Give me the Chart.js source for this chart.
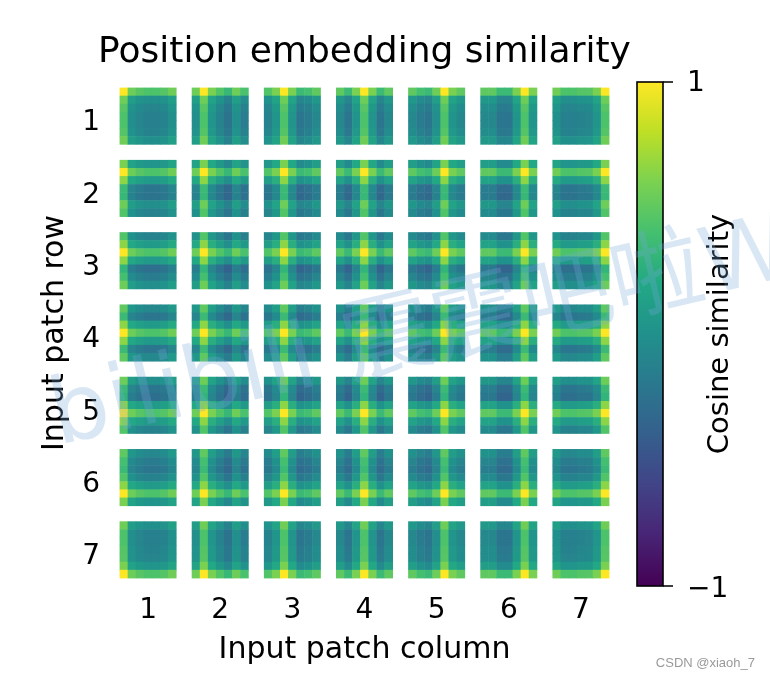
<!DOCTYPE html>
<html>
<head>
<meta charset="utf-8">
<script src="https://cdn.jsdelivr.net/npm/chart.js@4.4.1/dist/chart.umd.min.js"></script>
<style>
  html, body { margin: 0; background: #fff; }
</style>
</head>
<body>
<canvas id="simChart" width="770" height="678"></canvas>
<script>
// tick labels for both patch axes
const patchTicks = [1, 2, 3, 4, 5, 6, 7];
const cbarTicks = [-1, 1];

// row part of the similarity: rowSim[r][i] = contribution when comparing patch row r with row i
const rowSim = [
  [0.5, 0.05, -0.03, -0.07, -0.07, -0.04, 0.06],
  [0.1, 0.5, 0.15, -0.15, -0.17, 0.05, -0.05],
  [-0.05, 0.15, 0.5, 0.15, -0.2, -0.1, 0.05],
  [0.0, -0.15, 0.15, 0.5, 0.15, -0.15, 0.0],
  [0.05, -0.15, -0.2, 0.15, 0.5, 0.15, -0.05],
  [0.0, -0.1, -0.15, -0.05, 0.15, 0.5, 0.1],
  [0.06, -0.07, -0.07, -0.04, -0.03, 0.1, 0.5]
];

// column part: colSim[c][j]
const colSim = [
  [0.5, 0.05, -0.03, -0.07, -0.07, -0.04, 0.06],
  [0.05, 0.5, 0.1, -0.05, -0.17, 0.05, -0.08],
  [-0.05, 0.1, 0.5, 0.1, -0.15, -0.1, 0.0],
  [0.0, -0.15, 0.1, 0.5, 0.1, -0.15, 0.0],
  [0.0, -0.1, -0.15, 0.05, 0.5, 0.1, 0.0],
  [0.0, 0.0, -0.15, -0.15, 0.1, 0.5, 0.1],
  [0.06, -0.07, -0.07, -0.04, -0.03, 0.1, 0.5]
];

// viridis colour map
const viridis = ["#440154", "#482475", "#414487", "#355f8d", "#2a788e", "#21918c",
                 "#22a884", "#44bf70", "#7ad151", "#bddf26", "#fde725"];

function hexRgb(h) {
  return [parseInt(h.slice(1, 3), 16), parseInt(h.slice(3, 5), 16), parseInt(h.slice(5, 7), 16)];
}
function viridisColor(v) {
  let t = (Math.max(-1, Math.min(1, v)) + 1) / 2 * (viridis.length - 1);
  const k = Math.min(Math.floor(t), viridis.length - 2);
  const f = t - k;
  const a = hexRgb(viridis[k]), b = hexRgb(viridis[k + 1]);
  const c = a.map((x, n) => Math.round(x + (b[n] - x) * f));
  return "rgb(" + c.join(",") + ")";
}

const TILE = 0.783;        // tile size in axis units
const CELL = TILE / 7;

// build the cell table
const cells = [];
for (let r = 0; r < 7; r++) {
  for (let c = 0; c < 7; c++) {
    for (let i = 0; i < 7; i++) {
      for (let j = 0; j < 7; j++) {
        cells.push({
          x: patchTicks[c] + (j - 3) * CELL,
          y: patchTicks[r] + (i - 3) * CELL,
          v: rowSim[r][i] + colSim[c][j]
        });
      }
    }
  }
}

Chart.defaults.font.family = "'DejaVu Sans', sans-serif";
Chart.defaults.color = "#000";

function cellRadius(ctx) {
  const s = ctx.chart.scales.x;
  return (Math.abs(s.getPixelForValue(CELL) - s.getPixelForValue(0)) + 0.5) / Math.SQRT2;
}

// fixed axis boxes, no extra label padding pushed into the layout
function fixBox(size) {
  return (s) => {
    if (s.isHorizontal()) s.height = size; else s.width = size;
    s.paddingTop = s.paddingBottom = s.paddingLeft = s.paddingRight = 0;
  };
}

const colorbar = {
  id: "colorbar",
  afterDraw(chart) {
    const { ctx, chartArea } = chart;
    const s = chart.scales.cbar;
    const top = s.getPixelForValue(1) + 2, bot = s.getPixelForValue(-1);
    const x0 = s.left + 20, w = 26;
    const g = ctx.createLinearGradient(0, bot, 0, top);
    viridis.forEach((c, k) => g.addColorStop(k / (viridis.length - 1), c));
    ctx.save();
    ctx.fillStyle = g;
    ctx.fillRect(x0, top, w, bot - top);
    ctx.strokeStyle = "#000";
    ctx.lineWidth = 1.6;
    ctx.strokeRect(x0, top, w, bot - top);
    ctx.beginPath();
    cbarTicks.forEach((t) => {
      const y = t > 0 ? top : bot;
      ctx.moveTo(x0 + w, y);
      ctx.lineTo(x0 + w + 10, y);
    });
    ctx.stroke();

    // chart title, centred over the plot area
    ctx.font = "36px 'DejaVu Sans'";
    ctx.textAlign = "center";
    ctx.textBaseline = "middle";
    ctx.fillStyle = "#000";
    ctx.fillText("Position embedding similarity", (chartArea.left + chartArea.right) / 2, 53);

    // colourbar label
    ctx.translate(s.left + 103, (top + bot) / 2);
    ctx.rotate(-Math.PI / 2);
    ctx.font = "29px 'DejaVu Sans'";
    ctx.fillText("Cosine similarity", 0, 0);
    ctx.restore();

    // watermarks
    ctx.save();
    ctx.translate(58, 445);
    ctx.rotate(-13 * Math.PI / 180);
    ctx.font = "92px 'DejaVu Sans', 'Noto Sans CJK SC'";
    ctx.fillStyle = "rgba(120,170,220,0.28)";
    ctx.textBaseline = "alphabetic";
    ctx.fillText("bilibili 震震吧啦Wz", 0, 0);
    ctx.restore();

    ctx.save();
    ctx.font = "13px 'Liberation Sans', sans-serif";
    ctx.fillStyle = "#9a9a9a";
    ctx.textAlign = "right";
    ctx.textBaseline = "middle";
    ctx.fillText("CSDN @xiaoh_7", 755, 663);
    ctx.restore();
  }
};

new Chart(document.getElementById("simChart"), {
  type: "scatter",
  data: {
    datasets: [{
      data: cells,
      pointStyle: "rect",
      pointRadius: cellRadius,
      pointHoverRadius: cellRadius,
      pointBorderWidth: 0,
      pointBackgroundColor: (ctx) => viridisColor(ctx.raw ? ctx.raw.v : 0)
    }]
  },
  options: {
    responsive: false,
    animation: false,
    events: [],
    layout: { padding: { top: 80 } },
    plugins: {
      legend: { display: false },
      tooltip: { enabled: false },
      title: { display: false }
    },
    scales: {
      x: {
        type: "linear",
        min: 0.5,
        max: 7.5,
        afterBuildTicks: (s) => { s.ticks = patchTicks.map((v) => ({ value: v })); },
        afterFit: fixBox(92),
        grid: { display: false, drawTicks: false },
        border: { display: false },
        ticks: { font: { size: 28 }, padding: 8, maxRotation: 0 },
        title: {
          display: true,
          text: "Input patch column",
          font: { size: 30 },
          padding: { top: 8, bottom: 10 }
        }
      },
      y: {
        type: "linear",
        reverse: true,
        min: 0.5,
        max: 7.5,
        afterBuildTicks: (s) => { s.ticks = patchTicks.map((v) => ({ value: v })); },
        afterFit: fixBox(112),
        grid: { display: false, drawTicks: false },
        border: { display: false },
        ticks: { font: { size: 28 }, padding: 12, labelOffset: 7 },
        title: {
          display: true,
          text: "Input patch row",
          font: { size: 30 },
          padding: { top: 37, bottom: 8 }
        }
      },
      cbar: {
        type: "linear",
        position: "right",
        min: -1,
        max: 1,
        afterBuildTicks: (s) => { s.ticks = cbarTicks.map((v) => ({ value: v })); },
        afterFit: fixBox(153),
        grid: { display: false, drawTicks: false },
        border: { display: false },
        ticks: {
          font: { size: 28 },
          padding: 70,
          labelOffset: 4,
          callback: (v) => (v < 0 ? "\u2212" + Math.abs(v) : String(v))
        }
      }
    }
  },
  plugins: [colorbar]
});
</script>
</body>
</html>
